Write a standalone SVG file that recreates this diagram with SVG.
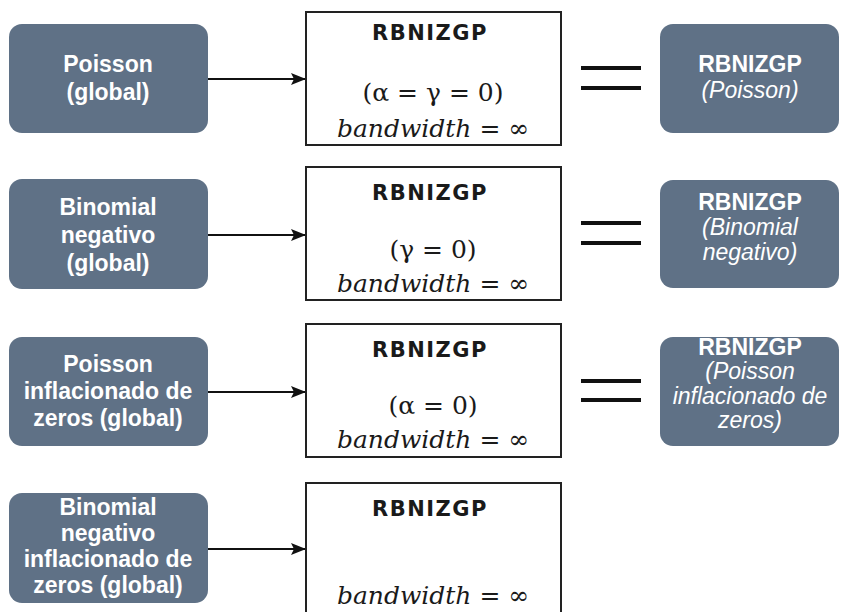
<svg xmlns="http://www.w3.org/2000/svg" width="846" height="612" viewBox="0 0 846 612">
  <defs>
    <marker id="arrow" viewBox="0 0 15 12" refX="14" refY="6" markerWidth="15" markerHeight="12" markerUnits="userSpaceOnUse" orient="auto">
      <path d="M0,0 L15,6 L0,12 L3,6 Z" fill="#111"/>
    </marker>
    <style>
      .node { fill: #5f7186; }
      .model { fill: #fff; stroke: #222; stroke-width: 2; }
      .wt { fill: #fff; font-family: "Liberation Sans", Arial, sans-serif; font-size: 23px; font-weight: bold; text-anchor: middle; }
      .wi { fill: #fff; font-family: "Liberation Sans", Arial, sans-serif; font-size: 23px; font-style: italic; text-anchor: middle; }
      .title { fill: #1a1a1a; font-family: "DejaVu Sans", "Liberation Sans", sans-serif; font-size: 21px; font-weight: bold; letter-spacing: 1.5px; text-anchor: middle; }
      .math { fill: #1a1a1a; font-family: "DejaVu Serif", "Liberation Serif", serif; font-size: 25px; text-anchor: middle; }
      .mi { font-style: italic; }
      .conn line { stroke: #111; stroke-width: 2; }
      .eq line { stroke: #111; stroke-width: 4; }
    </style>
  </defs>

  <!-- connectors -->
  <g id="connectors" class="conn">
    <line x1="208" y1="79" x2="305" y2="79" marker-end="url(#arrow)"/>
    <line x1="208" y1="235" x2="305" y2="235" marker-end="url(#arrow)"/>
    <line x1="208" y1="392" x2="305" y2="392" marker-end="url(#arrow)"/>
    <line x1="208" y1="549" x2="305" y2="549" marker-end="url(#arrow)"/>
  </g>

  <!-- equality signs -->
  <g id="equals" class="eq">
    <line x1="581" y1="68" x2="641" y2="68"/>
    <line x1="581" y1="88" x2="641" y2="88"/>
    <line x1="581" y1="223" x2="641" y2="223"/>
    <line x1="581" y1="243" x2="641" y2="243"/>
    <line x1="581" y1="381" x2="641" y2="381"/>
    <line x1="581" y1="400" x2="641" y2="400"/>
  </g>

  <!-- row 1 -->
  <g id="poisson-global">
    <rect class="node" x="9" y="24" width="199" height="109" rx="13"/>
    <text class="wt" x="108" y="72">Poisson</text>
    <text class="wt" x="108" y="100">(global)</text>
  </g>
  <g id="model-1">
    <rect class="model" x="306" y="12" width="255" height="133"/>
    <text class="title" x="430" y="40">RBNIZGP</text>
    <text class="math" x="433" y="101">(α = γ = 0)</text>
    <text class="math" x="433" y="137"><tspan class="mi">bandwidth</tspan> = ∞</text>
  </g>
  <g id="result-poisson">
    <rect class="node" x="660" y="24" width="179" height="109" rx="13"/>
    <text class="wt" x="750" y="72">RBNIZGP</text>
    <text class="wi" x="750" y="98">(Poisson)</text>
  </g>

  <!-- row 2 -->
  <g id="negbin-global">
    <rect class="node" x="9" y="179" width="199" height="110" rx="13"/>
    <text class="wt" x="108" y="215">Binomial</text>
    <text class="wt" x="108" y="243">negativo</text>
    <text class="wt" x="108" y="271">(global)</text>
  </g>
  <g id="model-2">
    <rect class="model" x="306" y="167" width="255" height="133"/>
    <text class="title" x="430" y="200">RBNIZGP</text>
    <text class="math" x="433" y="258">(γ = 0)</text>
    <text class="math" x="433" y="292"><tspan class="mi">bandwidth</tspan> = ∞</text>
  </g>
  <g id="result-negbin">
    <rect class="node" x="660" y="180" width="179" height="108" rx="13"/>
    <text class="wt" x="750" y="210">RBNIZGP</text>
    <text class="wi" x="750" y="235">(Binomial</text>
    <text class="wi" x="750" y="260">negativo)</text>
  </g>

  <!-- row 3 -->
  <g id="zip-global">
    <rect class="node" x="9" y="337" width="199" height="109" rx="13"/>
    <text class="wt" x="108" y="372">Poisson</text>
    <text class="wt" x="108" y="399">inflacionado de</text>
    <text class="wt" x="108" y="426">zeros (global)</text>
  </g>
  <g id="model-3">
    <rect class="model" x="306" y="324" width="255" height="133"/>
    <text class="title" x="430" y="357">RBNIZGP</text>
    <text class="math" x="433" y="414">(α = 0)</text>
    <text class="math" x="433" y="448"><tspan class="mi">bandwidth</tspan> = ∞</text>
  </g>
  <g id="result-zip">
    <rect class="node" x="660" y="337" width="179" height="109" rx="13"/>
    <text class="wt" x="750" y="355">RBNIZGP</text>
    <text class="wi" x="750" y="379">(Poisson</text>
    <text class="wi" x="750" y="404">inflacionado de</text>
    <text class="wi" x="750" y="428">zeros)</text>
  </g>

  <!-- row 4 -->
  <g id="zinb-global">
    <rect class="node" x="9" y="493" width="199" height="110" rx="13"/>
    <text class="wt" x="108" y="515">Binomial</text>
    <text class="wt" x="108" y="541">negativo</text>
    <text class="wt" x="108" y="567">inflacionado de</text>
    <text class="wt" x="108" y="593">zeros (global)</text>
  </g>
  <g id="model-4">
    <rect class="model" x="306" y="483" width="255" height="140"/>
    <text class="title" x="430" y="516">RBNIZGP</text>
    <text class="math" x="433" y="604"><tspan class="mi">bandwidth</tspan> = ∞</text>
  </g>
</svg>
